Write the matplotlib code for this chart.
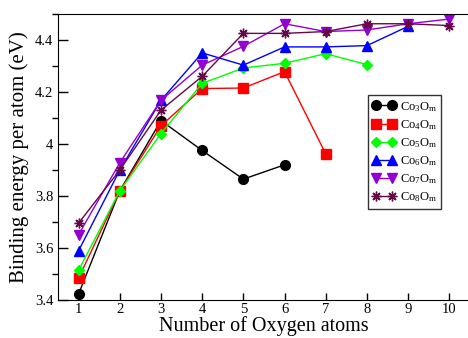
import matplotlib
matplotlib.use('Agg')
import matplotlib.pyplot as plt
from matplotlib.ticker import MultipleLocator, FuncFormatter

plt.rcParams['font.family'] = 'Liberation Serif'
plt.rcParams['mathtext.fontset'] = 'custom'
plt.rcParams['mathtext.rm'] = 'Liberation Serif'
plt.rcParams['mathtext.it'] = 'Liberation Serif'

labels = ['Co$_3$O$_m$', 'Co$_4$O$_m$', 'Co$_5$O$_m$', 'Co$_6$O$_m$', 'Co$_7$O$_m$', 'Co$_8$O$_m$']
co3 = [3.424, 3.82, 4.09, 3.975, 3.865, 3.92]
co4 = [3.485, 3.82, 4.07, 4.213, 4.215, 4.278, 3.962]
co5 = [3.515, 3.82, 4.04, 4.233, 4.292, 4.31, 4.347, 4.305]
co6 = [3.59, 3.90, 4.168, 4.35, 4.303, 4.373, 4.373, 4.378, 4.452]
co7 = [3.652, 3.928, 4.168, 4.303, 4.375, 4.462, 4.432, 4.438, 4.462, 4.48]
co8 = [3.696, 3.90, 4.13, 4.26, 4.425, 4.425, 4.432, 4.462, 4.462, 4.455]
series = [co3, co4, co5, co6, co7, co8]

colors = ['black', '#ff0000', '#00ff00', '#0000ff', '#9400d3', '#670748']
markers = ['o', 's', 'D', '^', 'v', (8, 2, 0)]
msizes = [7, 6.5, 5.5, 7, 7, 7]

fig = plt.figure(figsize=(4.68, 3.38), dpi=100)
ax = fig.add_axes([0.124, 0.112, 0.88, 0.847])

for ys, lab, c, m, ms in zip(series, labels, colors, markers, msizes):
    xs = list(range(1, len(ys) + 1))
    ax.plot(xs, ys, color=c, marker=m, ms=ms, lw=1, label=lab,
            markeredgecolor=c, markerfacecolor=c)

ax.set_xlim(0.5, 10.5)
ax.set_ylim(3.4, 4.5)
ax.xaxis.set_major_locator(MultipleLocator(1))
ax.yaxis.set_major_locator(MultipleLocator(0.2))
ax.yaxis.set_minor_locator(MultipleLocator(0.1))
ax.yaxis.set_major_formatter(FuncFormatter(lambda v, p: ('%.1f' % v).rstrip('0').rstrip('.')))
ax.tick_params(axis='both', direction='in', labelsize=10.5)
ax.tick_params(axis='x', length=5, width=1, pad=2)
ax.tick_params(axis='y', which='major', length=7, width=1)
ax.tick_params(axis='y', which='minor', length=4, width=1)

ax.set_xlabel('Number of Oxygen atoms', fontsize=14.5, labelpad=0)
ax.set_ylabel('Binding energy per atom (eV)', fontsize=15, labelpad=4)

leg = ax.legend(loc='upper left', bbox_to_anchor=(0.752, 0.715), borderaxespad=0,
                numpoints=2, handlelength=1.9, fontsize=9, fancybox=False,
                labelspacing=0.35, handletextpad=0.3, borderpad=0.35)
leg.get_frame().set_edgecolor('black')
leg.get_frame().set_linewidth(1)

plt.savefig('out.png', dpi=100)
plt.close()
